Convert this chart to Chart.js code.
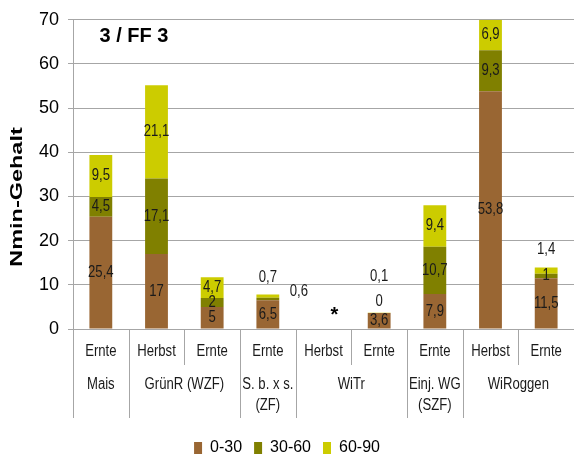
<html>

<head>
    <title>Nmin-Gehalt 3 / FF 3</title>
    <style>
        html,
        body {
            margin: 0;
            padding: 0;
            background: #fff;
        }
    </style>
</head>

<body>
    <canvas id="chart" width="574" height="459"></canvas>

    <script src="https://cdn.jsdelivr.net/npm/chart.js"></script>
    <script>
        // sampling dates (first row under the bars)
        var termine = ['Ernte', 'Herbst', 'Ernte', 'Ernte', 'Herbst', 'Ernte', 'Ernte', 'Herbst', 'Ernte']
        // crop groups: name lines, first and last bar index
        var kulturen = [
            [['Mais'], 0, 0],
            [['GrünR (WZF)'], 1, 2],
            [['S. b. x s.', '(ZF)'], 3, 3],
            [['WiTr'], 4, 5],
            [['Einj. WG', '(SZF)'], 6, 6],
            [['WiRoggen'], 7, 8]
        ]
        // Nmin per soil layer, kg N/ha (null = not sampled)
        var schicht_0_30 = [25.4, 17, 5, 6.5, null, 3.6, 7.9, 53.8, 11.5]
        var schicht_30_60 = [4.5, 17.1, 2, 0.6, null, 0, 10.7, 9.3, 1]
        var schicht_60_90 = [9.5, 21.1, 4.7, 0.7, null, 0.1, 9.4, 6.9, 1.4]
        var y_ticks = [0, 10, 20, 30, 40, 50, 60, 70]

        var GRID = '#a6a6a6'
        var SANS = "'Liberation Sans', Arial, sans-serif"

        // labels of thin segments sit beside / above the bar: [dataset, index, dx, dy from bar top]
        var moved = [
            [1, 3, 31, -3],
            [2, 3, 0, -17],
            [1, 5, 0, -11],
            [2, 5, 0, -36],
            [2, 8, 0, -18]
        ]

        function fmt(v) {
            return String(v).replace('.', ',')
        }

        // condensed text, like an Arial Narrow label
        function narrowText(ctx, t, x, y) {
            ctx.save()
            ctx.translate(x, y)
            ctx.scale(0.82, 1)
            ctx.fillText(t, 0, 0)
            ctx.restore()
        }

        var drawExtras = {
            id: 'drawExtras',
            afterDatasetsDraw(chart) {
                var ctx = chart.ctx
                var area = chart.chartArea
                var xs = chart.scales.x

                // value labels
                ctx.save()
                ctx.font = '16px ' + SANS
                ctx.fillStyle = '#1a1a1a'
                ctx.textAlign = 'center'
                ctx.textBaseline = 'middle'
                chart.data.datasets.forEach(function (ds, di) {
                    var meta = chart.getDatasetMeta(di)
                    meta.data.forEach(function (bar, i) {
                        var v = ds.data[i]
                        if (v === null) return
                        var x = bar.x
                        var y = (bar.y + bar.base) / 2
                        moved.forEach(function (m) {
                            if (m[0] === di && m[1] === i) {
                                var top = chart.getDatasetMeta(2).data[i].y
                                x = bar.x + m[2]
                                y = top + m[3]
                            }
                        })
                        narrowText(ctx, fmt(v), x, y)
                    })
                })
                ctx.restore()

                // no sample for WiTr in autumn
                ctx.save()
                ctx.font = 'bold 20px ' + SANS
                ctx.fillStyle = '#000'
                ctx.textAlign = 'center'
                ctx.textBaseline = 'middle'
                ctx.fillText('*', xs.getPixelForValue(4) + 11, area.bottom - 14)
                ctx.restore()
            },
            afterDraw(chart) {
                var ctx = chart.ctx
                var area = chart.chartArea
                var xs = chart.scales.x
                var step = (area.right - area.left) / termine.length

                ctx.save()
                // separators of the two-level category axis
                ctx.strokeStyle = GRID
                ctx.lineWidth = 1
                kulturen.forEach(function (k) {
                    var x0 = Math.round(area.left + k[1] * step) + 0.5
                    ctx.beginPath()
                    ctx.moveTo(x0, area.bottom)
                    ctx.lineTo(x0, area.bottom + 89)
                    ctx.stroke()
                    for (var j = k[1] + 1; j <= k[2]; j++) {
                        var xi = Math.round(area.left + j * step) + 0.5
                        ctx.beginPath()
                        ctx.moveTo(xi, area.bottom)
                        ctx.lineTo(xi, area.bottom + 36)
                        ctx.stroke()
                    }
                })

                ctx.font = '16px ' + SANS
                ctx.fillStyle = '#1a1a1a'
                ctx.textAlign = 'center'
                ctx.textBaseline = 'middle'
                termine.forEach(function (t, i) {
                    narrowText(ctx, t, xs.getPixelForValue(i), area.bottom + 23)
                })
                kulturen.forEach(function (k) {
                    var cx = (xs.getPixelForValue(k[1]) + xs.getPixelForValue(k[2])) / 2
                    k[0].forEach(function (line, li) {
                        narrowText(ctx, line, cx, area.bottom + 56 + li * 21)
                    })
                })

                // chart title inside the plot
                ctx.font = 'bold 20px ' + SANS
                ctx.fillStyle = '#000'
                ctx.fillText('3 / FF 3', 134, 36)

                // axis title, stretched along its direction
                ctx.translate(17, 197)
                ctx.rotate(-Math.PI / 2)
                ctx.scale(1.38, 1)
                ctx.font = 'bold 17px ' + SANS
                ctx.fillText('Nmin-Gehalt', 0, 0)
                ctx.restore()
            }
        }

        var my_chart = new Chart(document.getElementById('chart').getContext('2d'), {
            type: 'bar',
            data: {
                labels: termine,
                datasets: [{
                    label: '0-30',
                    data: schicht_0_30,
                    backgroundColor: '#996633'
                }, {
                    label: '30-60',
                    data: schicht_30_60,
                    backgroundColor: '#808000'
                }, {
                    label: '60-90',
                    data: schicht_60_90,
                    backgroundColor: '#cccc00'
                }]
            },
            options: {
                responsive: false,
                maintainAspectRatio: false,
                animation: false,
                devicePixelRatio: 1,
                datasets: {
                    bar: {
                        barPercentage: 0.41,
                        categoryPercentage: 1,
                        borderWidth: 0
                    }
                },
                layout: {
                    padding: { top: 19, right: 0, bottom: -7, left: 0 }
                },
                plugins: {
                    tooltip: { enabled: false },
                    legend: {
                        position: 'bottom',
                        labels: {
                            boxWidth: 8,
                            boxHeight: 12,
                            padding: 12,
                            color: '#000',
                            font: { family: SANS, size: 16 }
                        }
                    }
                },
                scales: {
                    x: {
                        stacked: true,
                        grid: { display: false },
                        border: { display: false },
                        ticks: { display: false },
                        afterFit(scale) { scale.height = 99 }
                    },
                    y: {
                        stacked: true,
                        min: 0,
                        max: 70,
                        afterBuildTicks(scale) {
                            scale.ticks = y_ticks.map(function (v) { return { value: v } })
                        },
                        afterFit(scale) { scale.width = 73 },
                        grid: { color: GRID, tickLength: 5 },
                        border: { color: GRID },
                        ticks: {
                            padding: 9,
                            color: '#000',
                            font: { family: SANS, size: 18 }
                        }
                    }
                }
            },
            plugins: [drawExtras]
        });
    </script>
</body>

</html>
